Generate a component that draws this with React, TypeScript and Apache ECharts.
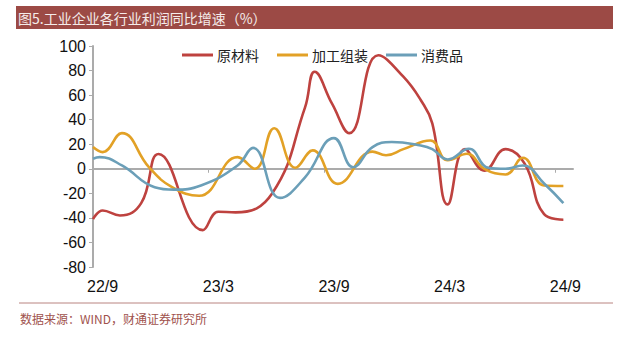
import React, { useEffect, useRef } from "react";
import * as echarts from "echarts";

const seriesNames = ["原材料", "加工组装", "消费品"];
const tickLabels = ["22/9", "23/3", "23/9", "24/3", "24/9"];
const tickMonths = [0, 6, 12, 18, 24];

// x = months since 2022/9, y = YoY profit growth (%)
const rawMonths = [0, 0.5, 1.4, 2.5, 3.4, 5.7, 6.5, 7.4, 9.3, 11.0, 11.5, 12.4, 13.3, 14.8, 16.1, 17.0, 17.6, 18.4, 19.3, 20.3, 21.4, 22.4, 23.4, 24.4];
const rawValues = [-41, -34, -38, -28, 12, -50, -35, -35.5, -20, 50, 79, 53, 29, 92.5, 75, 56, 37, -29, 16, -1.5, 16, 4, -37, -41.5];

const asmMonths = [0, 0.5, 1.5, 2.9, 4.1, 5.5, 7.5, 8.4, 9.4, 10.5, 11.4, 12.7, 14.5, 15.2, 16.1, 17.5, 18.4, 19.4, 20.3, 21.4, 22.3, 23.4, 24.4];
const asmValues = [17.7, 13.6, 29, 1.3, -15, -22, 9.5, 0, 33, 0.8, 15, -12.3, 14, 11, 16, 23, 7, 12.3, 0, -4.6, 9, -13.6, -14];

const conMonths = [0, 0.35, 1.5, 3.2, 4.2, 5.6, 7.5, 8.3, 9.7, 11.0, 12.5, 13.5, 14.5, 15.5, 17.0, 17.6, 18.4, 19.5, 20.5, 21.4, 22.3, 23.4, 24.4];
const conValues = [8.2, 9.5, 2.7, -15, -17, -13.6, 2.7, 17, -23.7, -7, 25, 1.3, 17.7, 21.8, 19, 16, 7.6, 16.3, 0.8, 0, 2.7, -12, -28];

const colors = ["#BE423F", "#E2A126", "#6B9FB8"];

const pairs = (xs: number[], ys: number[]) => xs.map((x, i) => [x, ys[i]]);

export default function App() {
  const ref = useRef<HTMLDivElement>(null);
  useEffect(() => {
    if (!ref.current) return;
    const chart = echarts.init(ref.current, undefined, { renderer: "svg" });
    const numFont = "'Liberation Sans', Arial, sans-serif";
    const cjkFont = "'Noto Sans CJK SC', sans-serif";
    const axisGray = "#ABABAB";
    const mk = (i: number, xs: number[], ys: number[]) => ({
      name: seriesNames[i],
      type: "line",
      xAxisIndex: 0,
      yAxisIndex: 0,
      data: pairs(xs, ys),
      smooth: 0.45,
      showSymbol: false,
      symbol: "none",
      lineStyle: { width: 2.6, color: colors[i] },
      itemStyle: { color: colors[i] },
      z: 3 + i,
    });
    chart.setOption({
      animation: false,
      backgroundColor: "#ffffff",
      grid: { left: 93, right: 49, top: 46, bottom: 70, containLabel: false },
      legend: {
        left: 177,
        top: 43,
        itemWidth: 31,
        itemHeight: 3,
        itemGap: 18,
        icon: "rect",
        data: seriesNames,
        textStyle: { fontFamily: cjkFont, fontSize: 14, color: "#222", padding: [0, 0, 0, -1] },
      },
      xAxis: [
        {
          type: "value",
          min: 0,
          max: 24.9,
          axisLine: { show: true, onZero: true, lineStyle: { color: axisGray, width: 2 } },
          axisTick: { show: true, customValues: tickMonths, length: 4, inside: false, lineStyle: { color: axisGray, width: 1 } },
          axisLabel: { show: false },
          splitLine: { show: false },
        },
        {
          type: "value",
          min: 0,
          max: 24.9,
          position: "bottom",
          axisLine: { show: false, onZero: false },
          axisTick: { show: false },
          splitLine: { show: false },
          axisLabel: {
            show: true,
            customValues: tickMonths.map((m) => m + 0.5),
            formatter: (v: number) => {
              const idx = tickMonths.indexOf(Math.round(v - 0.5));
              return idx >= 0 ? tickLabels[idx] : "";
            },
            fontFamily: numFont,
            fontSize: 16,
            color: "#111",
            margin: 11,
          },
        },
      ],
      yAxis: {
        type: "value",
        min: -80,
        max: 100,
        interval: 20,
        axisLine: { show: true, lineStyle: { color: axisGray, width: 2 } },
        axisTick: { show: true, length: 4, inside: false, lineStyle: { color: axisGray, width: 1 } },
        axisLabel: { fontFamily: numFont, fontSize: 16, color: "#111", margin: 7 },
        splitLine: { show: false },
      },
      series: [mk(0, rawMonths, rawValues), mk(1, asmMonths, asmValues), mk(2, conMonths, conValues)],
      graphic: [
        { type: "rect", shape: { x: 16, y: 6, width: 597, height: 23 }, style: { fill: "#9C4A45" }, z: 10 },
        {
          type: "text",
          x: 18,
          y: 18,
          style: {
            text: "图5.工业企业各行业利润同比增速（%）",
            fill: "#F5ECEA",
            font: "14px 'Noto Sans CJK SC', sans-serif",
            textVerticalAlign: "middle",
          },
          z: 11,
        },
        { type: "line", shape: { x1: 19, y1: 303, x2: 613, y2: 303 }, style: { stroke: "#B98480", lineWidth: 1 }, z: 10 },
        {
          type: "text",
          x: 20,
          y: 318,
          style: {
            text: "数据来源：WIND，财通证券研究所",
            fill: "#A0524D",
            font: "12px 'Noto Sans CJK SC', sans-serif",
            textVerticalAlign: "middle",
          },
          z: 11,
        },
      ],
    });
    return () => chart.dispose();
  }, []);
  return <div ref={ref} style={{ position: "fixed", left: 0, top: 0, width: 622, height: 337 }} />;
}
